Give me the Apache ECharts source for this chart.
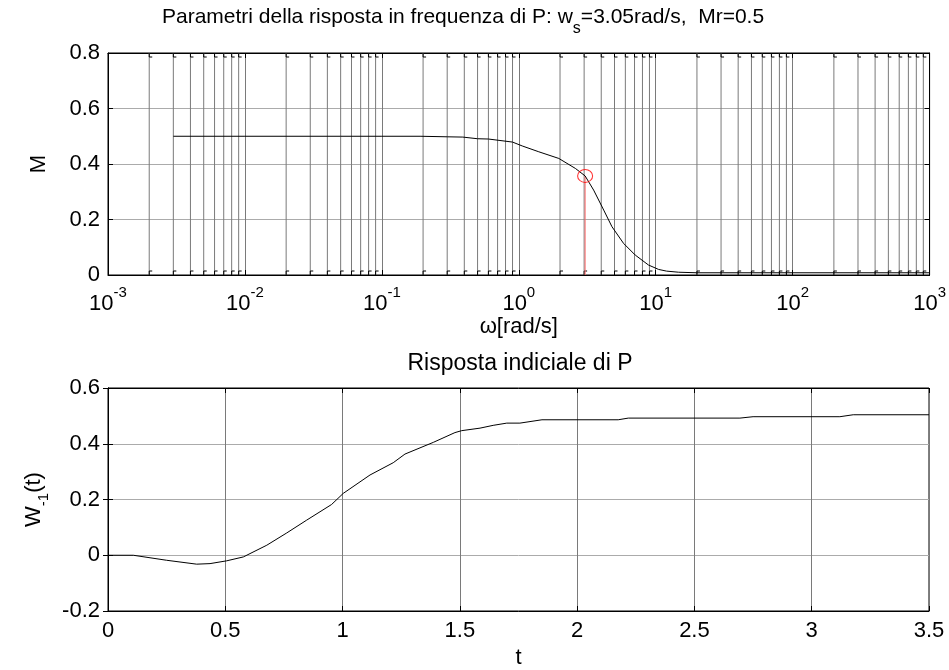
<!DOCTYPE html>
<html><head><meta charset="utf-8">
<script src="https://cdn.jsdelivr.net/npm/echarts@6/dist/echarts.min.js"></script>
<style>html,body{margin:0;padding:0;background:#fff}#c{width:949px;height:670px}</style>
</head><body><div id="c"></div>
<script>
// Frequency response magnitude M(omega)
const freqW = [0.003, 0.01, 0.05, 0.1, 0.19, 0.3, 0.39, 0.5, 0.6, 0.9, 1.06, 1.4, 1.96, 2.59, 3.05, 3.52, 4.17, 4.79, 5.82, 7.08, 8.85, 10.5, 12, 14.7, 20, 100, 1000];
const freqM = [0.5, 0.5, 0.5, 0.5, 0.5, 0.498, 0.497, 0.491, 0.49, 0.479, 0.465, 0.444, 0.42, 0.384, 0.357, 0.306, 0.234, 0.174, 0.114, 0.072, 0.036, 0.02, 0.014, 0.01, 0.008, 0.008, 0.008];
// Marker (omega_s, Mr-point)
const markerW = [3.05];
const markerM = [0.357];
// Step response
const stepT = [0, 0.108, 0.25, 0.378, 0.435, 0.506, 0.577, 0.677, 0.762, 0.847, 0.953, 1.003, 1.117, 1.216, 1.266, 1.387, 1.479, 1.508, 1.586, 1.642, 1.70, 1.756, 1.85, 2.175, 2.218, 2.694, 2.75, 3.12, 3.177, 3.5];
const stepY = [0, 0, -0.018, -0.032, -0.03, -0.02, -0.006, 0.036, 0.080, 0.126, 0.182, 0.222, 0.288, 0.332, 0.363, 0.405, 0.44, 0.447, 0.456, 0.466, 0.474, 0.474, 0.486, 0.486, 0.492, 0.492, 0.497, 0.497, 0.504, 0.504];
// Axis settings
const decadeExps = [-3, -2, -1, 0, 1, 2, 3];
const topYTicks = [0, 0.2, 0.4, 0.6, 0.8];
const botXTicks = [0, 0.5, 1, 1.5, 2, 2.5, 3, 3.5];
const botYTicks = [-0.2, 0, 0.2, 0.4, 0.6];

const minorVals = [];
for (let k = decadeExps[0]; k < decadeExps[decadeExps.length - 1]; k++) {
  for (let m = 2; m <= 9; m++) minorVals.push(m * Math.pow(10, k));
}

const FONT = 'Liberation Sans, Arial, sans-serif';
const VGRID = '#7a7a7a';
const HGRID = '#ababab';

const chart = echarts.init(document.getElementById('c'), null, {renderer: 'canvas'});

function yAxisBase(grid, ticks, extra) {
  return Object.assign({
    gridIndex: grid, type: 'value', min: ticks[0], max: ticks[ticks.length - 1],
    interval: 0.2,
    axisLine: {show: true, lineStyle: {color: '#000', width: 1}},
    axisTick: {show: true, inside: true, length: 5, lineStyle: {color: '#000'}},
    axisLabel: {show: true, color: '#000', fontSize: 22, fontFamily: FONT, margin: 8},
    splitLine: {show: true, lineStyle: {color: HGRID, width: 1}}
  }, extra || {});
}

const option = {
  animation: false,
  backgroundColor: '#fff',
  title: [
    {
      left: 157, top: 2,
      text: '{a|Parametri della risposta in frequenza di P: w}{s|s}{a|=3.05rad/s,  Mr=0.5}',
      textStyle: {
        fontFamily: FONT, fontWeight: 'normal', color: '#000',
        rich: {
          a: {fontSize: 21, lineHeight: 30, verticalAlign: 'top', fontFamily: FONT, color: '#000'},
          s: {fontSize: 16, lineHeight: 16, verticalAlign: 'bottom', fontFamily: FONT, color: '#000'}
        }
      }
    },
    {
      left: 515, textAlign: 'center', top: 347,
      text: 'Risposta indiciale di P',
      textStyle: {fontFamily: FONT, fontWeight: 'normal', fontSize: 23, color: '#000'}
    }
  ],
  grid: [
    {left: 108, right: 18, top: 53, height: 222, show: true, borderColor: '#000', borderWidth: 1, backgroundColor: 'transparent'},
    {left: 108, right: 20, top: 388, height: 223, show: true, borderColor: '#000', borderWidth: 1, backgroundColor: 'transparent'}
  ],
  xAxis: [
    {
      gridIndex: 0, type: 'log', logBase: 10, min: 0.001, max: 1000,
      name: 'ω[rad/s]', nameLocation: 'middle', nameGap: 40,
      nameTextStyle: {fontFamily: FONT, fontSize: 22, color: '#000'},
      axisLine: {show: true, onZero: false, lineStyle: {color: '#000', width: 1}},
      axisTick: {show: true, inside: true, length: 5, lineStyle: {color: '#000'}},
      axisLabel: {
        show: true, margin: 10, showMinLabel: true, showMaxLabel: true,
        formatter: function (v) { return '{b|10}{e|' + Math.round(Math.log10(v)) + '}'; },
        rich: {
          b: {fontSize: 22, fontFamily: FONT, color: '#000', verticalAlign: 'bottom', lineHeight: 30},
          e: {fontSize: 15, fontFamily: FONT, color: '#000', verticalAlign: 'top', lineHeight: 15}
        }
      },
      splitLine: {show: true, lineStyle: {color: VGRID, width: 1}}
    },
    {
      gridIndex: 0, type: 'log', logBase: 10, min: 0.001, max: 1000, position: 'top',
      axisLine: {show: true, onZero: false, lineStyle: {color: '#000'}},
      axisTick: {show: true, inside: true, length: 5, lineStyle: {color: '#000'}},
      axisLabel: {show: false}, splitLine: {show: false}
    },
    {
      gridIndex: 1, type: 'value', min: botXTicks[0], max: botXTicks[botXTicks.length - 1], interval: 0.5,
      name: 't', nameLocation: 'middle', nameGap: 36,
      nameTextStyle: {fontFamily: FONT, fontSize: 22, color: '#000'},
      axisLine: {show: true, onZero: false, lineStyle: {color: '#000', width: 1}},
      axisTick: {show: true, inside: true, length: 5, lineStyle: {color: '#000'}},
      axisLabel: {show: true, color: '#000', fontSize: 22, fontFamily: FONT, margin: 9, showMinLabel: true, showMaxLabel: true},
      splitLine: {show: true, lineStyle: {color: VGRID, width: 1}}
    },
    {
      gridIndex: 1, type: 'value', min: botXTicks[0], max: botXTicks[botXTicks.length - 1], interval: 0.5, position: 'top',
      axisLine: {show: true, onZero: false, lineStyle: {color: '#000'}},
      axisTick: {show: true, inside: true, length: 5, lineStyle: {color: '#000'}},
      axisLabel: {show: false}, splitLine: {show: false}
    }
  ],
  yAxis: [
    yAxisBase(0, topYTicks, {
      name: 'M', nameLocation: 'middle', nameGap: 58,
      nameTextStyle: {fontFamily: FONT, fontSize: 22, color: '#000'}
    }),
    yAxisBase(0, topYTicks, {position: 'right', axisLabel: {show: false}, splitLine: {show: false}}),
    yAxisBase(1, botYTicks, {
      name: '{a|W}{s|-1}{a|(t)}', nameLocation: 'middle', nameGap: 46,
      nameTextStyle: {
        fontFamily: FONT, fontSize: 22, color: '#000',
        rich: {
          a: {fontSize: 22, lineHeight: 28, verticalAlign: 'top', fontFamily: FONT, color: '#000'},
          s: {fontSize: 15, lineHeight: 15, verticalAlign: 'bottom', fontFamily: FONT, color: '#000'}
        }
      }
    }),
    yAxisBase(1, botYTicks, {position: 'right', axisLabel: {show: false}, splitLine: {show: false}})
  ],
  series: [
    {
      // minor log grid lines (2..9 x 10^k) and edge minor ticks, placed through the log axis scale
      type: 'custom', xAxisIndex: 0, yAxisIndex: 0, silent: true, z: 1,
      data: minorVals.map(v => [v]),
      renderItem: function (params, api) {
        const v = api.value(0);
        const pb = api.coord([v, topYTicks[0]]);
        const pt = api.coord([v, topYTicks[topYTicks.length - 1]]);
        const st = {stroke: '#000', lineWidth: 1};
        return {type: 'group', children: [
          {type: 'line', shape: {x1: pb[0], y1: pb[1], x2: pt[0], y2: pt[1]}, style: {stroke: VGRID, lineWidth: 1}},
          {type: 'line', shape: {x1: pb[0], y1: pb[1], x2: pb[0], y2: pb[1] - 4}, style: st},
          {type: 'line', shape: {x1: pb[0], y1: pb[1] - 4, x2: pb[0] + 3, y2: pb[1] - 4}, style: st},
          {type: 'line', shape: {x1: pt[0], y1: pt[1], x2: pt[0], y2: pt[1] + 4}, style: st},
          {type: 'line', shape: {x1: pt[0], y1: pt[1] + 4, x2: pt[0] + 3, y2: pt[1] + 4}, style: st}
        ]};
      }
    },
    {
      type: 'line', xAxisIndex: 0, yAxisIndex: 0, showSymbol: false, symbol: 'none', z: 5,
      lineStyle: {color: '#000', width: 1},
      data: freqW.map((w, i) => [w, freqM[i]])
    },
    {
      type: 'line', xAxisIndex: 0, yAxisIndex: 0, showSymbol: false, symbol: 'none', z: 4,
      lineStyle: {color: '#ff6b6b', width: 1},
      data: [[markerW[0], 0], [markerW[0], markerM[0]]]
    },
    {
      type: 'scatter', xAxisIndex: 0, yAxisIndex: 0, symbol: 'circle', symbolSize: [15, 13], z: 6,
      itemStyle: {color: 'rgba(0,0,0,0)', borderColor: '#ff0000', borderWidth: 1},
      data: markerW.map((w, i) => [w, markerM[i]])
    },
    {
      type: 'line', xAxisIndex: 2, yAxisIndex: 2, showSymbol: false, symbol: 'none', z: 5,
      lineStyle: {color: '#000', width: 1},
      data: stepT.map((t, i) => [t, stepY[i]])
    }
  ]
};
chart.setOption(option);
</script>
</body></html>
